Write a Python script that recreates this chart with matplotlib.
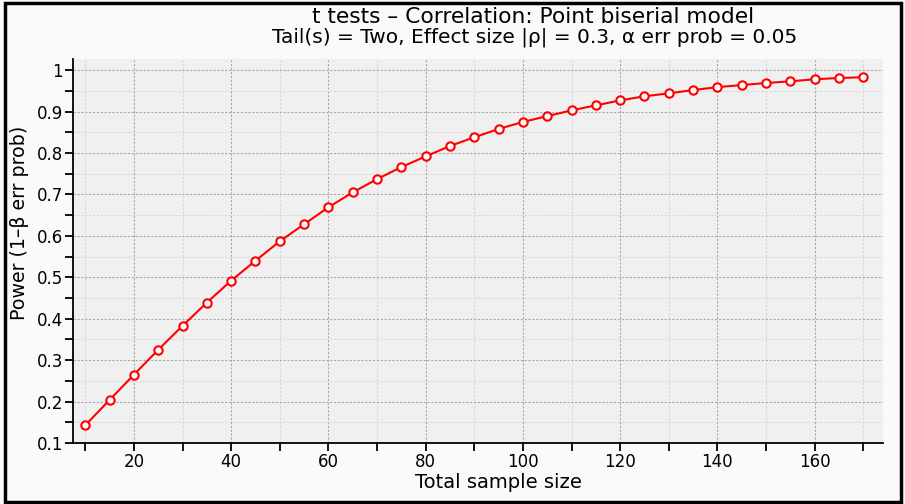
import matplotlib.pyplot as plt
from matplotlib.patches import Rectangle
from matplotlib.ticker import MultipleLocator

sample_size = list(range(10, 175, 5))
power = [0.143, 0.204, 0.265, 0.325, 0.383, 0.439, 0.492, 0.540, 0.587, 0.628,
         0.669, 0.705, 0.737, 0.766, 0.792, 0.817, 0.838, 0.858, 0.875, 0.889,
         0.903, 0.915, 0.927, 0.937, 0.944, 0.952, 0.959, 0.964, 0.969, 0.973,
         0.978, 0.981, 0.983]
y_ticks = [0.1, 0.2, 0.3, 0.4, 0.5, 0.6, 0.7, 0.8, 0.9, 1.0]
y_labels = ['0.1', '0.2', '0.3', '0.4', '0.5', '0.6', '0.7', '0.8', '0.9', '1']

title = 't tests \u2013 Correlation: Point biserial model'
subtitle = 'Tail(s) = Two, Effect size |\u03c1| = 0.3, \u03b1 err prob = 0.05'

plt.rcParams['font.family'] = ['DejaVu Sans']

fig = plt.figure(figsize=(9.05, 5.04), dpi=100, facecolor='#fafafa')
ax = fig.add_axes([0.0803, 0.121, 0.8951, 0.762])
ax.set_facecolor('#f0f0f0')

ax.plot(sample_size, power, color='#ff0000', lw=1.5, marker='o', ms=6,
        mfc='white', mec='#ff0000', mew=1.5, zorder=3)

ax.set_xlim(7.4, 174)
ax.set_ylim(0.1, 1.027)
ax.xaxis.set_major_locator(MultipleLocator(20))
ax.xaxis.set_minor_locator(MultipleLocator(10))
ax.yaxis.set_minor_locator(MultipleLocator(0.05))
ax.set_yticks(y_ticks)
ax.set_yticklabels(y_labels)

ax.grid(which='major', color='#a8a8a8', ls=(0, (2, 1.5)), lw=0.8)
ax.grid(which='minor', color='#d8d8d8', ls=(0, (2, 1.5)), lw=0.8)
ax.set_axisbelow(True)

for s in ['top', 'right']:
    ax.spines[s].set_visible(False)
for s in ['left', 'bottom']:
    ax.spines[s].set_linewidth(1.3)

ax.tick_params(which='both', direction='out', length=6, width=1.3, labelsize=12)
ax.tick_params(axis='x', pad=1)
ax.tick_params(axis='y', pad=1)

ax.set_xlabel('Total sample size', fontsize=14, labelpad=0)
ax.xaxis.set_label_coords(0.526, -0.077)
ax.set_ylabel('Power (1\u2013\u03b2 err prob)', fontsize=13.7)
ax.yaxis.set_label_coords(-0.054, 0.573)

fig.text(0.589, 0.966, title, ha='center', va='center', fontsize=15.7)
fig.text(0.591, 0.927, subtitle, ha='center', va='center', fontsize=14.5)

fig.patches.append(Rectangle((0.006, 0.004), 0.99, 0.99, transform=fig.transFigure,
                             fill=False, ec='black', lw=2.5))

fig.savefig('out.png', dpi=100, facecolor=fig.get_facecolor())
